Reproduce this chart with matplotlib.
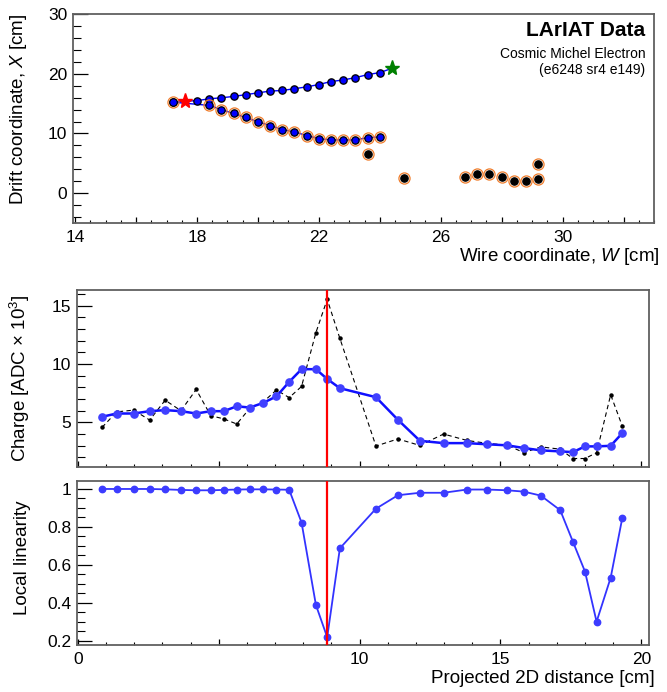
import numpy as np
import matplotlib
matplotlib.use("Agg")
import matplotlib.pyplot as plt
from matplotlib.ticker import MultipleLocator, FixedLocator

plt.rcParams['font.family'] = ['Liberation Sans', 'DejaVu Sans']
plt.rcParams['mathtext.fontset'] = 'custom'
plt.rcParams['mathtext.rm'] = 'Liberation Sans'
plt.rcParams['mathtext.it'] = 'Liberation Sans:italic'

# top panel: hits in the wire/drift plane
upper_w = [17.2, 18.0, 18.4, 18.8, 19.2, 19.6, 20.0, 20.4, 20.8, 21.2, 21.6, 22.0, 22.4, 22.8, 23.2, 23.6, 24.0]
upper_x = [15.25, 15.5, 15.8, 15.98, 16.2, 16.5, 16.8, 17.1, 17.2, 17.5, 17.8, 18.2, 18.7, 18.96, 19.35, 19.85, 20.2]
lower_w = [17.2, 18.4, 18.8, 19.2, 19.6, 20.0, 20.4, 20.8, 21.2, 21.6, 22.0, 22.4, 22.8, 23.2, 23.6, 24.0]
lower_x = [15.25, 14.7, 14.0, 13.35, 12.68, 11.95, 11.33, 10.66, 10.26, 9.65, 9.14, 8.92, 8.92, 8.92, 9.31, 9.42]
iso_w = [23.6, 24.8, 26.8, 27.2, 27.6, 28.0, 28.4, 28.8, 29.2, 29.2]
iso_x = [6.56, 2.52, 2.75, 3.2, 3.2, 2.75, 2.08, 2.08, 2.36, 4.94]
red_star = (17.6, 15.4)
green_star = (24.4, 20.9)

# middle/bottom panels
dist = [0.86, 1.38, 1.98, 2.55, 3.10, 3.66, 4.20, 4.72, 5.18, 5.64, 6.10, 6.58, 7.05, 7.50, 7.94, 8.45, 8.85, 9.30,
        10.58, 11.36, 12.14, 12.98, 13.81, 14.53, 15.24, 15.83, 16.43, 17.12, 17.57, 18.0, 18.41, 18.91, 19.32]
charge_smooth = [5.48, 5.76, 5.76, 5.96, 6.05, 5.96, 5.76, 5.96, 5.96, 6.38, 6.27, 6.67, 7.23, 8.47, 9.56, 9.56, 8.72,
                 7.93, 7.16, 5.22, 3.42, 3.22, 3.22, 3.12, 3.03, 2.80, 2.60, 2.51, 2.45, 2.94, 2.94, 2.99, 4.07]
charge_raw = [4.57, 5.9, 6.05, 5.2, 6.9, 6.0, 7.82, 5.57, 5.3, 4.86, 6.2, 6.75, 7.78, 7.12, 8.08, 12.7, 15.55, 12.2,
              2.97, 3.58, 3.02, 4.0, 3.45, 3.2, 3.05, 2.4, 2.9, 2.7, 1.9, 1.9, 2.4, 7.37, 4.7]
linearity = [1.0, 1.0, 1.0, 1.0, 0.998, 0.995, 0.993, 0.993, 0.995, 0.997, 0.998, 0.998, 0.997, 0.996, 0.823, 0.388,
             0.218, 0.687, 0.896, 0.967, 0.980, 0.980, 0.997, 0.997, 0.993, 0.986, 0.965, 0.888, 0.722, 0.564, 0.30,
             0.532, 0.845]
kink_index = 16

fs = 13.5
tfs = 12.5
frame = '#606060'
orange = '#f07d2c'

def style(ax):
    for s in ax.spines.values():
        s.set_color(frame)
        s.set_linewidth(1.3)
    ax.tick_params(which='both', direction='in', top=False, right=False, labelsize=tfs, colors='black')
    ax.tick_params(axis='y', which='major', length=11, width=0.9, pad=4)
    ax.tick_params(axis='y', which='minor', length=5.5, width=0.8)
    ax.tick_params(axis='x', which='major', length=4.5, width=0.9, pad=5)
    ax.tick_params(axis='x', which='minor', length=2.3, width=0.8)

fig = plt.figure(figsize=(6.67, 6.92), dpi=100)

# ---- top panel
ax1 = fig.add_axes([0.1094, 0.6777, 0.8711, 0.302])
ax1.plot(upper_w[:1] + [red_star[0]] + upper_w[1:] + [green_star[0]],
         upper_x[:1] + [red_star[1]] + upper_x[1:] + [green_star[1]], color='blue', lw=1.0, zorder=2)
ax1.plot(lower_w, lower_x, color='blue', lw=1.0, zorder=2)
ax1.plot(upper_w + lower_w + iso_w, upper_x + lower_x + iso_x, 'o', color='black', ms=5.2, zorder=3)
ax1.plot(upper_w + lower_w, upper_x + lower_x, 'o', color='blue', ms=3.3, zorder=4)
ax1.plot(lower_w + iso_w, lower_x + iso_x, 'o', mfc='none', mec=orange, ms=8.0, mew=0.9, zorder=5)
ax1.plot(*red_star, '*', color='red', ms=11, zorder=6)
ax1.plot(*green_star, '*', color='green', ms=11, zorder=6)
ax1.set_xlim(13.93, 33.0)
ax1.set_ylim(-5, 30)
ax1.xaxis.set_minor_locator(MultipleLocator(0.5))
ax1.yaxis.set_major_locator(MultipleLocator(10))
ax1.yaxis.set_minor_locator(MultipleLocator(2))
style(ax1)
ax1.set_xticks(np.arange(14, 33, 2))
ax1.set_xticklabels([str(v) if (v - 14) % 4 == 0 else '' for v in range(14, 33, 2)])
ax1.set_ylabel('Drift coordinate, $X$ [cm]', fontsize=fs, loc='top')
ax1.yaxis.set_label_coords(-0.075, 1.0)
ax1.set_xlabel('Wire coordinate, $W$ [cm]', fontsize=fs, loc='right')
ax1.xaxis.set_label_coords(1.01, -0.11)
ax1.text(0.985, 0.92, 'LArIAT Data', transform=ax1.transAxes, ha='right', va='center',
         fontsize=15, fontweight='bold')
ax1.text(0.985, 0.81, 'Cosmic Michel Electron', transform=ax1.transAxes, ha='right', va='center', fontsize=10)
ax1.text(0.985, 0.73, '(e6248 sr4 e149)', transform=ax1.transAxes, ha='right', va='center', fontsize=10)

# ---- middle panel
ax2 = fig.add_axes([0.1154, 0.3251, 0.8576, 0.2558])
ax2.plot(dist, charge_raw, '--', color='black', lw=0.8, dashes=(4, 3), marker='o', ms=2.2, zorder=2)
ax2.plot(dist, charge_smooth, '-', color='#1010ff', lw=1.8, marker='o', mfc='#4040ff', mec='#4040ff', ms=5.2, zorder=3)
ax2.axvline(dist[kink_index], color='red', lw=1.6, zorder=4)
ax2.set_xlim(-0.03, 20.27)
ax2.set_ylim(1.17, 16.35)
ax2.xaxis.set_major_locator(MultipleLocator(5))
ax2.xaxis.set_minor_locator(MultipleLocator(1))
ax2.yaxis.set_major_locator(MultipleLocator(5))
ax2.yaxis.set_minor_locator(MultipleLocator(1))
style(ax2)
ax2.tick_params(axis='x', labelbottom=False)
ax2.set_ylabel('Charge [ADC \u00d7 10$^3$]', fontsize=fs, loc='top')
ax2.yaxis.set_label_coords(-0.079, 0.975)

# ---- bottom panel
ax3 = fig.add_axes([0.1154, 0.0679, 0.8576, 0.237])
ax3.plot(dist, linearity, '-', color='#3333ff', lw=1.3, marker='o', mfc='#3c3cff', mec='#3c3cff', ms=4.6, zorder=3)
ax3.axvline(dist[kink_index], color='red', lw=1.6, zorder=4)
ax3.set_xlim(-0.03, 20.27)
ax3.set_ylim(0.177, 1.042)
ax3.xaxis.set_major_locator(FixedLocator([0, 5, 10, 15, 20]))
ax3.xaxis.set_minor_locator(MultipleLocator(1))
ax3.yaxis.set_major_locator(FixedLocator([0.2, 0.4, 0.6, 0.8, 1.0]))
ax3.yaxis.set_minor_locator(MultipleLocator(0.05))
style(ax3)
ax3.set_xticklabels(['0', '', '10', '15', '20'])
ax3.set_yticklabels(['0.2', '0.4', '0.6', '0.8', '1'])
ax3.set_ylabel('Local linearity', fontsize=fs, loc='top')
ax3.yaxis.set_label_coords(-0.080, 0.88)
ax3.set_xlabel('Projected 2D distance [cm]', fontsize=fs, loc='right')
ax3.xaxis.set_label_coords(1.01, -0.155)

fig.savefig('out.png', dpi=100)
